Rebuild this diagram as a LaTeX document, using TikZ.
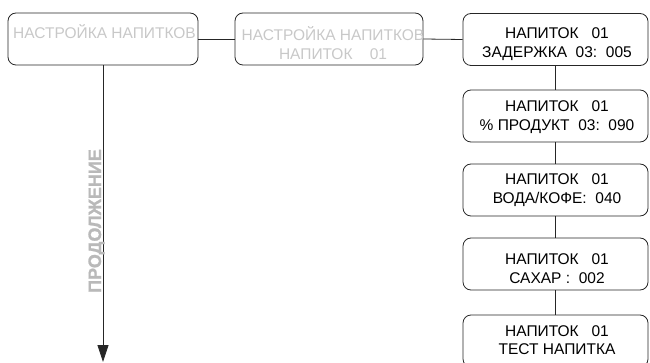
\documentclass[tikz,border=0pt]{standalone}
\usepackage{fontspec}
\setmainfont{Liberation Sans}
\newfontfamily\contfont{Liberation Sans Bold}[FakeBold=1.2]
\usetikzlibrary{arrows.meta}
\definecolor{lgray}{RGB}{200,200,200}
\definecolor{pgray}{RGB}{185,185,185}
\begin{document}
\begin{tikzpicture}[x=1pt,y=-1pt,
  box/.style={draw=black!85,line width=0.8pt,rounded corners=8pt,minimum width=#1,minimum height=52pt,inner sep=0pt},
  txt/.style={font=\fontsize{15.5}{19}\selectfont,align=center,inner sep=0pt},
  gtxt/.style={txt,text=lgray},
  conn/.style={draw=black!85,line width=0.8pt}]
\useasboundingbox (0,0) rectangle (650,363);
% boxes
\node[box=190pt] (b1) at (103,39) {};
\node[box=188pt] (b2) at (329,39) {};
\node[box=185pt] (r1) at (555.5,39.5) {};
\node[box=185pt] (r2) at (555.5,116) {};
\node[box=185pt] (r3) at (555.5,190) {};
\node[box=185pt] (r4) at (555.5,264) {};
\node[box=185pt] (r5) at (555.5,341) {};
% texts
\node[gtxt] (t1) at (104.5,32) {НАСТРОЙКА НАПИТКОВ};
\node[gtxt] (t2) at (333,43) {НАСТРОЙКА НАПИТКОВ\\НАПИТОК\ \ \ \ 01};
\node[txt] (tr1) at (557,44) {НАПИТОК\ \ \ 01\\ЗАДЕРЖКА\ \ 03:\ \ 005};
\node[txt] (tr2) at (557,117) {НАПИТОК\ \ \ 01\\\%\ ПРОДУКТ\ \ 03:\ \ 090};
\node[txt] (tr3) at (557,190) {НАПИТОК\ \ \ 01\\ВОДА/КОФЕ:\ \ 040};
\node[txt] (tr4) at (557,269) {НАПИТОК\ \ \ 01\\САХАР :\ \ 002};
\node[txt,font=\fontsize{15.5}{17.5}\selectfont] (tr5) at (557,340) {НАПИТОК\ \ \ 01\\ТЕСТ НАПИТКА};
% connectors
\draw[conn] (b1.east) -- (b2.west);
\draw[conn] (b2.east) -- (r1.west);
\draw[conn] (r1.south) -- (r2.north);
\draw[conn] (r2.south) -- (r3.north);
\draw[conn] (r3.south) -- (r4.north);
\draw[conn] (r4.south) -- (r5.north);
\coordinate (end) at (103,362);
\draw[conn,-{Triangle[width=11pt,length=17pt]}] (b1.south) -- (end);
\node[font={\contfont\fontsize{18}{20}\selectfont},text=pgray,rotate=90,anchor=base,inner sep=0pt] (cont) at (101,221) {ПРОДОЛЖЕНИЕ};
\end{tikzpicture}
\end{document}
